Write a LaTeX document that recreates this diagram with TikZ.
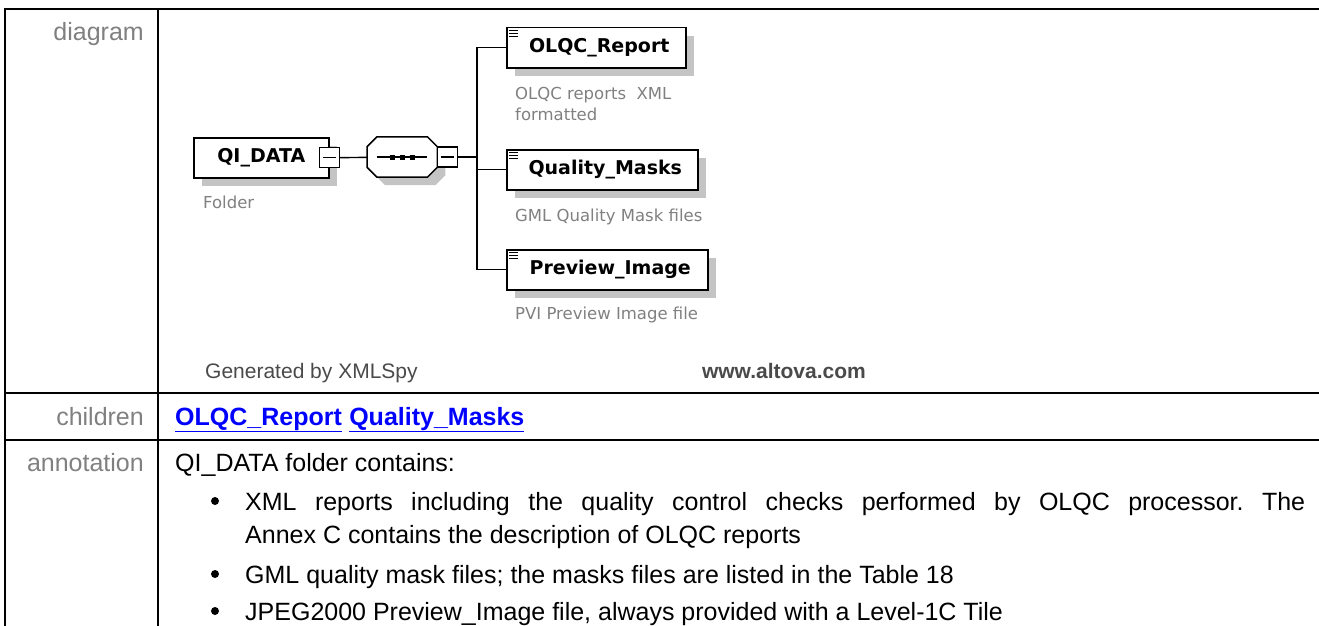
\documentclass[tikz,border=0pt]{standalone}
\usepackage{fontspec}
\setmainfont{Liberation Sans}
\newfontfamily\xsfont{DejaVu Sans}
\usetikzlibrary{positioning, shadows}
\definecolor{labelgray}{HTML}{808080}
\definecolor{shadowgray}{HTML}{C4C4C4}
\definecolor{footgray}{HTML}{4A4A4A}
\definecolor{linkblue}{HTML}{0000FF}
\frenchspacing

\begin{document}
\begin{tikzpicture}[x=1pt, y=-1pt,
    rule/.style={line width=2.5pt},
    rowlabel/.style={anchor=base east, inner sep=0, text=labelgray, font=\fontsize{25}{29}\selectfont},
    boxshadow/.style={general shadow={fill=shadowgray, shadow xshift=8pt, shadow yshift=-8pt}},
    elbox/.style={draw, fill=white, line width=1.5pt, minimum height=40pt, inner sep=0,
        font=\xsfont\bfseries\fontsize{19}{22}\selectfont, boxshadow},
    seqbox/.style={minimum width=70pt, minimum height=40pt, inner sep=0},
    octline/.style={draw, fill=white, line width=1.5pt, boxshadow},
    minus/.style={draw, fill=white, line width=1.3pt, minimum size=20pt, inner sep=0},
    conn/.style={line width=1.4pt},
    note/.style={anchor=base west, inner sep=0, text=labelgray, font=\xsfont\fontsize{16.5}{21}\selectfont},
    foot/.style={anchor=base west, inner sep=0, text=footgray, font=\fontsize{21}{25}\selectfont},
    body/.style={anchor=base west, inner sep=0, font=\fontsize{25}{29}\selectfont},
    link/.style={anchor=base west, inner sep=0, text=linkblue, font=\bfseries\fontsize{25}{29}\selectfont},
    dot/.style={circle, fill, inner sep=0, minimum size=8pt}
]
    \useasboundingbox (0,0) rectangle (1319,626);

    % table frame
    \draw[rule] (5,626) -- (5,9) -- (1319,9);
    \draw[rule] (158,9) -- (158,626);
    \draw[rule] (5,393) -- (1319,393);
    \draw[rule] (5,440) -- (1319,440);

    \node[rowlabel] (lbdiag) at (144,41) {diagram};
    \node[rowlabel] (lbchild) at (144,425) {children};
    \node[rowlabel] (lbanno) at (144,471) {annotation};

    % diagram
    \node[elbox, minimum width=135pt, anchor=north west] (qidata) at (193,137) {QI\_DATA\hspace{8pt}};
    \node[minus] (qimin) at (qidata.east) {};
    \draw[line width=1.2pt] ([xshift=4pt]qimin.west) -- ([xshift=-4pt]qimin.east);
    \node[note] (qinote) at (203,208) {Folder};

    \node[seqbox, anchor=west] (seq) at (367,157) {};
    \path[octline] ([yshift=10pt]seq.south west) -- ([yshift=-10pt]seq.north west)
        -- ([xshift=10pt]seq.north west) -- ([xshift=-10pt]seq.north east)
        -- ([yshift=-10pt]seq.north east) -- ([yshift=10pt]seq.south east)
        -- ([xshift=-10pt]seq.south east) -- ([xshift=10pt]seq.south west) -- cycle;
    \draw[line width=1.2pt] ([xshift=10pt]seq.west) -- ([xshift=-10pt]seq.east);
    \foreach \dx in {-10,0,10}
        \fill ([xshift=\dx pt]seq.center) ++(-2.5,-2.5) rectangle ++(5,5);
    \node[minus] (seqmin) at ([xshift=10pt]seq.east) {};
    \draw[line width=1.2pt] ([xshift=4pt]seqmin.west) -- ([xshift=-4pt]seqmin.east);

    \node[elbox, minimum width=179pt, anchor=north west] (olqc) at (506,27) {\hspace{6pt}OLQC\_Report};
    \node[elbox, minimum width=191pt, anchor=north west] (qmask) at (506,149) {\hspace{6pt}Quality\_Masks};
    \node[elbox, minimum width=201pt, anchor=north west] (prev) at (506,249) {\hspace{6pt}Preview\_Image};
    \foreach \b in {olqc,qmask,prev}
        \foreach \dy in {3.5,6.5,9.5}
            \draw[line width=1pt] ([shift={(3pt,-\dy pt)}]\b.north west) -- ++(9,0);

    \node[note] (olqcnote) at (515,99) {OLQC reports\ \ XML};
    \node[note] (olqcnote2) at (515,120) {formatted};
    \node[note] (qmasknote) at (515,221) {GML Quality Mask files};
    \node[note] (prevnote) at (515,319) {PVI Preview Image file};

    \coordinate (fork) at (477,157);
    \draw[conn] (qimin) -- (seq);
    \draw[conn] (seqmin) -- (fork);
    \draw[conn] (fork) |- (olqc);
    \draw[conn] (fork) |- (qmask);
    \draw[conn] (fork) |- (prev);

    \node[foot] (gen) at (205,378) {Generated by XMLSpy};
    \node[foot, anchor=base east, font=\bfseries\fontsize{21}{25}\selectfont] (altova) at (866,378) {www.altova.com};

    % children
    \node[link] (lnkolqc) at (175,425) {\underline{OLQC\_Report}};
    \node[link] (lnkqmask) at ([xshift=7pt]lnkolqc.base east) {\underline{Quality\_Masks}};

    % annotation
    \node[body] (annohead) at (175,471) {QI\_DATA folder contains:};
    \node[dot] (b1) at (215,501) {};
    \node[body] (item1) at (245,510) {\makebox[1060pt][s]{XML reports including the quality control checks performed by OLQC processor. The}};
    \node[body] (item1b) at (245,543) {Annex C contains the description of OLQC reports};
    \node[dot] (b2) at (215,574) {};
    \node[body] (item2) at (245,583) {GML quality mask files; the masks files are listed in the Table 18};
    \node[dot] (b3) at (215,611) {};
    \node[body] (item3) at (245,620) {JPEG2000 Preview\_Image file, always provided with a Level-1C Tile};
\end{tikzpicture}
\end{document}
